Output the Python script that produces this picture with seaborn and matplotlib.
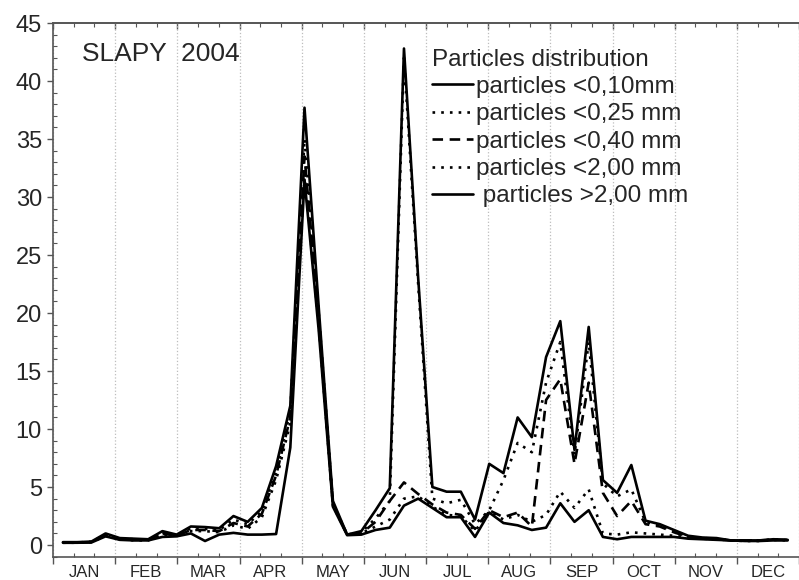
import numpy as np
import pandas as pd
import matplotlib
matplotlib.use("Agg")
import matplotlib.pyplot as plt
import seaborn as sns
from matplotlib.lines import Line2D
from matplotlib.ticker import MultipleLocator

# ---------------- data ----------------
months = ["JAN", "FEB", "MAR", "APR", "MAY", "JUN",
          "JUL", "AUG", "SEP", "OCT", "NOV", "DEC"]
week = np.arange(52)

p_010 = [0.25, 0.25, 0.3, 1.0, 0.6, 0.55, 0.5, 1.2, 0.9, 1.6, 1.55, 1.45, 2.5, 2.0, 3.2, 6.8, 12.0, 37.7, 20.5, 3.8, 0.9, 1.2,
         3.0, 4.9, 42.8, 23.0, 5.0, 4.6, 4.6, 2.2, 7.0, 6.2, 11.0, 9.3,
         16.2, 19.3, 8.2, 18.8, 5.6, 4.5, 6.9,
         2.1, 1.8, 1.3, 0.8, 0.65, 0.6, 0.4, 0.4, 0.4, 0.5, 0.45]
p_025 = [0.22, 0.22, 0.28, 0.9, 0.55, 0.5, 0.45, 1.1, 0.85, 1.45, 1.4, 1.3, 2.2, 1.8, 2.9, 6.3, 11.5, 35.0, 20.0, 3.6, 0.9, 1.1,
         2.3, 3.8, 42.0, 22.5, 4.0, 3.6, 3.9, 1.8, 3.0, 5.6, 8.8, 8.0,
         14.0, 17.5, 7.8, 17.5, 5.3, 4.2, 4.8,
         2.0, 1.7, 1.2, 0.75, 0.6, 0.55, 0.4, 0.4, 0.4, 0.5, 0.45]
p_040 = [0.2, 0.2, 0.25, 0.85, 0.5, 0.45, 0.45, 1.0, 0.8, 1.3, 1.3, 1.2, 1.9, 1.6, 2.7, 6.0, 11.0, 33.5, 19.5, 3.5, 0.9, 1.0,
         2.0, 3.8, 5.4, 4.4, 3.5, 2.8, 2.6, 1.4, 3.0, 2.4, 2.8, 1.6,
         12.5, 14.3, 7.0, 14.0, 4.5, 2.5, 3.8,
         1.8, 1.6, 1.1, 0.7, 0.6, 0.5, 0.4, 0.4, 0.4, 0.45, 0.45]
p_200 = [0.2, 0.2, 0.25, 0.8, 0.5, 0.4, 0.4, 0.9, 0.8, 1.2, 1.2, 1.1, 1.7, 1.4, 2.4, 5.6, 10.5, 32.0, 19.0, 3.4, 0.9, 1.0,
         1.6, 2.2, 4.0, 4.2, 3.3, 2.6, 2.5, 1.2, 2.9, 2.2, 2.6, 2.0,
         2.6, 4.6, 3.2, 4.8, 1.0, 0.9, 1.1,
         1.0, 0.9, 0.8, 0.65, 0.55, 0.5, 0.4, 0.35, 0.35, 0.45, 0.4]
p_gt200 = [0.2, 0.2, 0.22, 0.75, 0.45, 0.4, 0.4, 0.7, 0.75, 1.0, 0.35, 0.9, 1.05, 0.9, 0.9, 0.95, 8.4, 31.5, 18.5, 3.3, 0.85, 0.9,
           1.3, 1.5, 3.4, 4.0, 3.2, 2.4, 2.4, 0.7, 2.8, 1.9, 1.7, 1.3,
           1.5, 3.6, 2.0, 3.0, 0.7, 0.5, 0.7,
           0.7, 0.7, 0.7, 0.55, 0.5, 0.45, 0.4, 0.35, 0.35, 0.4, 0.4]

labels = ["particles <0,10mm", "particles <0,25 mm", "particles <0,40 mm",
          "particles <2,00 mm", " particles >2,00 mm"]
series = [p_010, p_025, p_040, p_200, p_gt200]
title_text = "SLAPY  2004"
legend_title = "Particles distribution"

# week index -> position on a month axis (12 equal months)
x_month = (week + 0.7) * 12 / 52.5

df = pd.concat([pd.DataFrame({"x": x_month, "v": s, "series": lab})
                for s, lab in zip(series, labels)], ignore_index=True)

dotted = (1, 2.3)
dashed = (4, 2.5)
dash_map = {labels[0]: "", labels[1]: dotted, labels[2]: dashed,
            labels[3]: dotted, labels[4]: ""}
LW = 1.9

# ---------------- style ----------------
sns.set_style("white")
plt.rcParams["font.family"] = ["Liberation Sans", "DejaVu Sans"]

fig = plt.figure(figsize=(7.99, 5.80), dpi=100)
ax = fig.add_axes([53 / 799, 23 / 580, 746 / 799, 534 / 580])

sns.lineplot(data=df, x="x", y="v", hue="series", style="series",
             palette={l: "black" for l in labels}, dashes=dash_map,
             hue_order=labels[::-1], style_order=labels[::-1],
             linewidth=LW, legend=False, errorbar=None, sort=False, ax=ax)

ax.set_xlim(0, 746 / 62.6)
ax.set_ylim(-1.03, 45)
ax.set_xlabel("")
ax.set_ylabel("")

# x axis: month boundaries (grid), decade minor ticks
ax.set_xticks(np.arange(13))
ax.xaxis.set_minor_locator(MultipleLocator(1 / 3))
ax.tick_params(axis="x", which="major", bottom=True, direction="out", length=5,
               width=1, color="#555555", labelbottom=False)
ax.tick_params(axis="x", which="minor", bottom=True, direction="in", length=3,
               width=0.8, color="#555555")
ax.grid(axis="x", which="major", color="#bdbdbd", linestyle=":", linewidth=0.9)
ax.grid(axis="y", visible=False)

sec = ax.secondary_xaxis("bottom")
sec.set_xticks(np.arange(12) + 0.5, months)
sec.tick_params(length=0, pad=6, labelsize=12)
sec.spines["bottom"].set_visible(False)

top = ax.secondary_xaxis("top")
top.set_xticks(np.arange(13))
top.xaxis.set_minor_locator(MultipleLocator(1 / 3))
top.tick_params(which="major", top=True, direction="in", length=4, width=1,
                color="#555555", labeltop=False)
top.tick_params(which="minor", top=True, direction="in", length=3, width=0.8,
                color="#555555")
top.spines["top"].set_color("#555555")
top.spines["top"].set_linewidth(1.2)

# y axis
ax.set_yticks(np.arange(0, 46, 5))
ax.yaxis.set_minor_locator(MultipleLocator(1))
ax.tick_params(axis="y", which="major", left=True, direction="out", length=4, width=1,
               color="#555555", labelsize=17, pad=4)
ax.tick_params(axis="y", which="minor", left=True, direction="in", length=3, width=0.8,
               color="#555555")

for side in ["left", "bottom", "top"]:
    ax.spines[side].set_color("#555555")
    ax.spines[side].set_linewidth(1.2)
ax.spines["right"].set_visible(False)

ax.text(0.039, 0.964, title_text, transform=ax.transAxes, fontsize=19,
        ha="left", va="top")

styles = ["-", (0, dotted), (0, dashed), (0, dotted), "-"]
handles = [Line2D([0], [0], color="black", lw=LW, linestyle=st) for st in styles]
leg = ax.legend(handles, labels, title=legend_title, loc="upper left",
                bbox_to_anchor=(0.508, 0.952), frameon=False, fontsize=17.5,
                title_fontsize=17.5, borderpad=0, borderaxespad=0,
                handlelength=1.7, handletextpad=0.1, labelspacing=0.22,
                alignment="left")

fig.savefig("out.png", dpi=100)
